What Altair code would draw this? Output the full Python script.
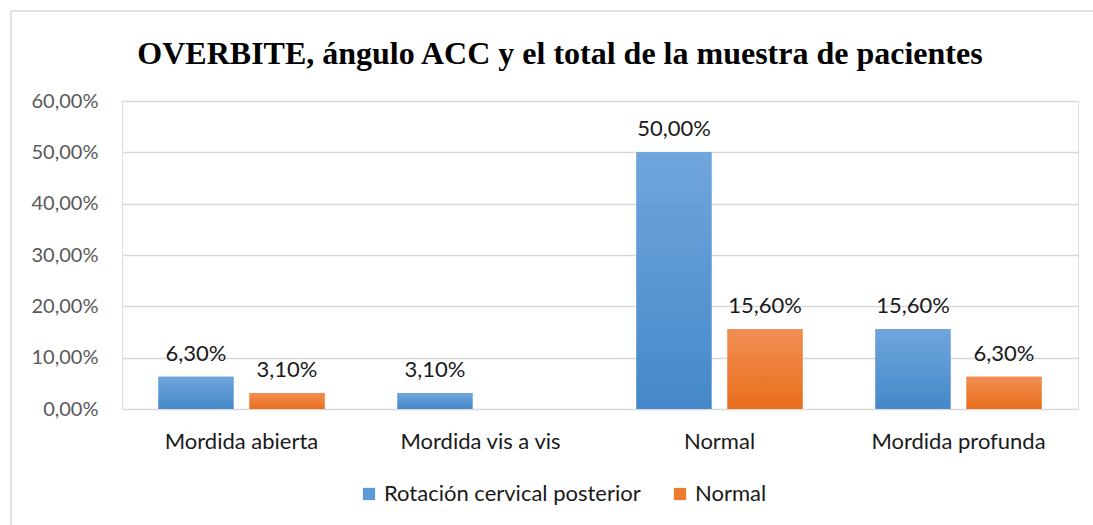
import altair as alt
import pandas as pd

categories = ["Mordida abierta", "Mordida vis a vis", "Normal", "Mordida profunda"]
series = ["Rotación cervical posterior", "Normal"]
rotacion_values = [0.063, 0.031, 0.50, 0.156]
normal_values = [0.031, None, 0.156, 0.063]
y_ticks = [0.0, 0.1, 0.2, 0.3, 0.4, 0.5, 0.6]

rows = []
for cat, r, n in zip(categories, rotacion_values, normal_values):
    rows.append({"categoria": cat, "serie": series[0], "valor": r})
    if n is not None:
        rows.append({"categoria": cat, "serie": series[1], "valor": n})
df = pd.DataFrame(rows)

W, H = 956, 308
LABEL_FONT = "Lato"

blue_grad = alt.LinearGradient(
    gradient="linear", x1=0, x2=0, y1=0, y2=1,
    stops=[alt.GradientStop(offset=0, color="#70a6dc"),
           alt.GradientStop(offset=1, color="#4488c9")],
)
orange_grad = alt.LinearGradient(
    gradient="linear", x1=0, x2=0, y1=0, y2=1,
    stops=[alt.GradientStop(offset=0, color="#f28e54"),
           alt.GradientStop(offset=1, color="#e86f1c")],
)

x_enc = alt.X(
    "categoria:N", sort=categories, title=None,
    scale=alt.Scale(paddingInner=0.305, paddingOuter=0.1525),
    axis=alt.Axis(labelAngle=0, labelFont=LABEL_FONT, labelFontSize=22,
                  labelColor="#1a1a1a", labelPadding=22, domain=False,
                  ticks=False, grid=False),
)
xoff = alt.XOffset("serie:N", sort=series,
                   scale=alt.Scale(paddingInner=0.176, paddingOuter=0))
y_enc = alt.Y(
    "valor:Q", title=None,
    scale=alt.Scale(domain=[0, 0.6], nice=False),
    axis=alt.Axis(values=y_ticks, labelExpr="replace(format(datum.value, '.2%'), '.', ',')",
                  labelFont=LABEL_FONT, labelFontSize=20, labelColor="#595959",
                  labelPadding=24, domain=False, ticks=False,
                  gridColor="#d9d9d9", gridWidth=1.3),
)

base = alt.Chart(df).encode(x=x_enc, xOffset=xoff, y=y_enc)

# solid bars carry the legend; gradient bars are painted over them
legend_bars = base.mark_bar().encode(
    color=alt.Color(
        "serie:N", sort=series, title=None,
        scale=alt.Scale(domain=series, range=["#5b9bd5", "#ed7d31"]),
        legend=alt.Legend(orient="none", legendX=236, legendY=382, direction="horizontal",
                          symbolType="square", symbolSize=150, symbolStrokeWidth=0,
                          labelFont=LABEL_FONT, labelFontSize=22, labelColor="#1a1a1a",
                          labelLimit=0, columnPadding=28, labelOffset=4),
    )
)
blue_bars = base.transform_filter(alt.datum.serie == series[0]).mark_bar(color=blue_grad)
orange_bars = base.transform_filter(alt.datum.serie == series[1]).mark_bar(color=orange_grad)

labels = base.transform_calculate(
    etiqueta="replace(format(datum.valor, '.2%'), '.', ',')"
).mark_text(baseline="alphabetic", dy=-16, font=LABEL_FONT, fontSize=22, color="#1a1a1a").encode(
    text="etiqueta:N"
)

# chart-area border along the left and top edges
frame = alt.Chart(pd.DataFrame({"k": [0]})).mark_rule(color="#d9d9d9", strokeWidth=1.5, clip=False)
frame_left = frame.encode(x=alt.value(-111), y=alt.value(-90), y2=alt.value(H + 116))
frame_top = frame.encode(x=alt.value(-111), x2=alt.value(W + 15), y=alt.value(-90))

chart = alt.layer(frame_left, frame_top, legend_bars, blue_bars, orange_bars, labels).properties(
    width=W, height=H,
    title=alt.TitleParams(
        "OVERBITE, ángulo ACC y el total de la muestra de pacientes",
        font="Liberation Serif", fontSize=32, fontWeight="bold", color="#000000",
        anchor="middle", baseline="alphabetic", dx=-40, dy=86, offset=0,
    ),
    autosize=alt.AutoSizeParams(type="none"),
    padding={"left": 122, "top": 101, "right": 15, "bottom": 116},
).configure_view(stroke=None).configure(background="white")

chart.save("out.html", embed_options={"renderer": "svg", "actions": False})
